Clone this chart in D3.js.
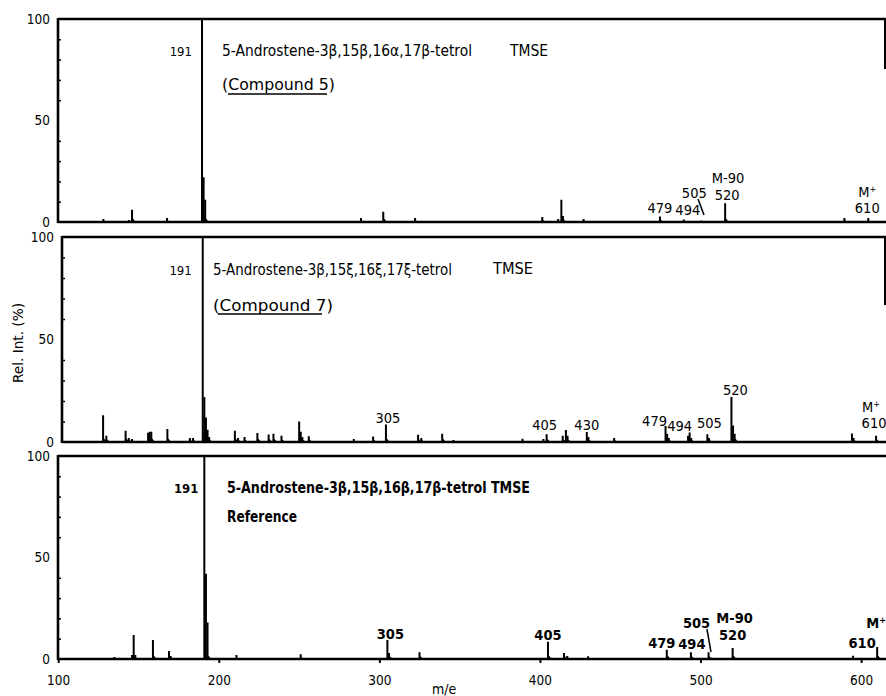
<!DOCTYPE html>
<html>
<head>
<meta charset="utf-8">
<script src="https://cdn.jsdelivr.net/npm/d3@7"></script>
<style>
  body { margin: 0; background: #fff; }
  svg { display: block; }
  text { font-family: "DejaVu Sans Condensed", "Liberation Sans Narrow", sans-serif; fill: #000; }
</style>
</head>
<body>
<svg id="chart" width="886" height="696"></svg>
<script>
// m/e and rel. intensity (%)
const compound5Mz  = [129, 145, 147, 169, 191, 192, 193, 291, 305, 325, 405, 415, 417, 418, 431, 479, 494, 505, 520, 595, 610];
const compound5Int = [1.5, 1, 6, 2, 100, 22, 11, 2, 5, 2, 2.5, 1.5, 11, 3, 1.5, 2.7, 1.2, 0.8, 9.2, 2, 2];

const compound7Mz  = [129, 131, 143, 145, 147, 157, 158, 159, 169, 183, 185, 191, 192, 193, 194, 195, 211, 213, 217, 225, 232, 235, 240, 251, 252, 253, 257, 285, 297, 305, 325, 327, 340, 347, 390, 403, 405, 415, 417, 418, 430, 431, 447, 479, 480, 481, 493, 494, 495, 505, 506, 520, 521, 522, 595, 596, 610];
const compound7Int = [13, 3, 5.5, 2, 1.5, 4.5, 5, 5, 6.3, 2, 2, 100, 22, 12, 6, 2.5, 5.5, 2, 2.4, 4.4, 3.6, 4, 3, 10, 5, 2.5, 2.8, 1.5, 2.7, 8.5, 3.5, 2, 4, 1, 1.6, 1.5, 3.8, 3, 5.9, 3, 4.9, 2.5, 2, 7.8, 4, 2, 3, 4.6, 2, 3.8, 2, 22, 8, 4, 4.2, 2, 3];

const referenceMz  = [135, 146, 147, 148, 159, 169, 170, 191, 192, 193, 211, 251, 305, 306, 325, 405, 415, 417, 430, 479, 494, 505, 520, 595, 610];
const referenceInt = [1, 2, 11.8, 2, 9.4, 4, 1.5, 100, 42, 18, 2, 2.3, 9.4, 3, 3.3, 8.5, 3, 1.5, 1.3, 4.6, 3.3, 3.3, 5.4, 1.6, 5.9];

// peak annotations
const compound5Tags   = ["479", "494", "505", "M-90", "520", "M+", "610"];
const compound5TagMz  = [479, 494, 505, 520, 520, 610, 610];
const compound7Tags   = ["305", "405", "430", "479", "494", "505", "520", "M+", "610"];
const compound7TagMz  = [305, 405, 430, 479, 494, 505, 520, 610, 610];
const referenceTags   = ["305", "405", "479", "494", "505", "M-90", "520", "M+", "610"];
const referenceTagMz  = [305, 405, 479, 494, 505, 520, 520, 610, 610];

const xTicks = [100, 200, 300, 400, 500, 600];
const yLabelTicks = [0, 50, 100];
const yMinorTicks = [10, 20, 30, 40, 60, 70, 80, 90];
const mzDomain = [100, 615];

const svg = d3.select("#chart");
const frameRight = 885;

const panels = [
  {
    mz: compound5Mz, ints: compound5Int, tags: compound5Tags, tagMz: compound5TagMz,
    tagOffsets: [[0, 9], [4, 7], [-7, 24], [3, 39], [2, 22], [-1, 25], [-1, 9]],
    slash: [[-3.3, 23], [2.7, 7]],
    xRange: [57.3, 876.2], yRange: [222, 19], frameLeft: 58, rightBorder: 50,
    base191: [-10, 56],
    titles: [
      { text: "5-Androstene-3β,15β,16α,17β-tetrol", x: 222, y: 56, len: 250 },
      { text: "TMSE", x: 510, y: 56, len: 38 },
      { text: "(Compound 5)", x: 222, y: 90, len: 113, underline: [228, 327, 94] }
    ],
    bold: false
  },
  {
    mz: compound7Mz, ints: compound7Int, tags: compound7Tags, tagMz: compound7TagMz,
    tagOffsets: [[2, 19], [-2, 12], [0, 12], [-11, 16], [-10, 11], [2, 14], [4, 47], [-5, 30], [-2, 14]],
    slash: null,
    xRange: [56.5, 884.1], yRange: [442, 237], frameLeft: 62, rightBorder: 68,
    base191: [-11, 275],
    titles: [
      { text: "5-Androstene-3β,15ξ,16ξ,17ξ-tetrol", x: 213, y: 275, len: 239 },
      { text: "TMSE", x: 493, y: 274, len: 40 },
      { text: "(Compound 7)", x: 213, y: 311, len: 120, underline: [218, 322, 314] }
    ],
    bold: false
  },
  {
    mz: referenceMz, ints: referenceInt, tags: referenceTags, tagMz: referenceTagMz,
    tagOffsets: [[3, 20], [0, 19], [-5, 11], [1, 10], [-12, 31], [2, 36], [0, 19], [-1, 31], [-15, 11]],
    slash: [[-1.6, 30], [2.4, 7]],
    xRange: [58.2, 885.2], yRange: [659, 456], frameLeft: 58, rightBorder: 0,
    base191: [-6, 493],
    titles: [
      { text: "5-Androstene-3β,15β,16β,17β-tetrol TMSE", x: 227, y: 493, len: 303 },
      { text: "Reference", x: 227, y: 522, len: 70 }
    ],
    bold: true
  }
];

panels.forEach((p, idx) => {
  const x = d3.scaleLinear().domain(mzDomain).range(p.xRange);
  const y = d3.scaleLinear().domain([0, 100]).range(p.yRange);
  const g = svg.append("g");
  const weight = p.bold ? "bold" : "normal";

  // frame: top rule, left axis, baseline, stub of right border
  g.append("line").attr("x1", p.frameLeft).attr("x2", 886)
    .attr("y1", y(100)).attr("y2", y(100))
    .attr("stroke", "#000").attr("stroke-width", 2.6);
  g.append("line").attr("x1", p.frameLeft).attr("x2", 886)
    .attr("y1", y(0)).attr("y2", y(0))
    .attr("stroke", "#000").attr("stroke-width", 2.6);
  g.append("line").attr("x1", p.frameLeft).attr("x2", p.frameLeft)
    .attr("y1", y(100) - 1).attr("y2", y(0) + 1)
    .attr("stroke", "#000").attr("stroke-width", 2.6);
  if (p.rightBorder > 0) {
    g.append("line").attr("x1", frameRight).attr("x2", frameRight)
      .attr("y1", y(100)).attr("y2", y(100) + p.rightBorder)
      .attr("stroke", "#000").attr("stroke-width", 2);
  }

  // minor ticks pointing into the plot
  const minor = g.append("g")
    .attr("transform", "translate(" + p.frameLeft + ",0)")
    .call(d3.axisRight(y).tickValues(yMinorTicks).tickSize(3).tickFormat(""));
  minor.select(".domain").remove();
  minor.selectAll("line").attr("stroke-width", 1.5);

  const yAxis = g.append("g")
    .attr("transform", "translate(" + p.frameLeft + ",0)")
    .call(d3.axisLeft(y).tickValues(yLabelTicks).tickSize(0).tickPadding(8));
  yAxis.select(".domain").remove();
  yAxis.selectAll("text")
    .style("font-family", "'DejaVu Sans Condensed', sans-serif")
    .style("font-size", "13.5px").attr("fill", "#000");

  // peaks: vertical stick with a short tail on the high-mass side
  const base = y(0);
  g.append("g").selectAll("path")
    .data(p.mz.map((m, i) => ({ m: m, v: p.ints[i] })))
    .join("path")
    .attr("d", (d) => {
      const px = x(d.m), top = y(d.v);
      const tail = Math.min(3.5, (base - top) * 0.4);
      return "M" + (px - 1) + "," + base + "L" + (px - 1) + "," + top +
        "L" + (px + 1) + "," + top + "L" + (px + 1) + "," + (base - tail) +
        "L" + (px + 3.5) + "," + base + "Z";
    })
    .attr("fill", "#000");

  // base peak label
  g.append("text")
    .attr("x", x(191) + p.base191[0]).attr("y", p.base191[1])
    .attr("text-anchor", "end")
    .style("font-size", "13px").style("font-weight", weight)
    .text("191");

  // peak tags
  p.tags.forEach((t, i) => {
    const tx = x(p.tagMz[i]) + p.tagOffsets[i][0];
    const ty = base - p.tagOffsets[i][1];
    const el = g.append("text")
      .attr("x", tx).attr("y", ty)
      .attr("text-anchor", "middle")
      .style("font-size", "14.5px").style("font-weight", weight);
    if (t === "M+") {
      el.append("tspan").text("M");
      el.append("tspan").attr("baseline-shift", "super").style("font-size", "9px").text("+");
    } else {
      el.text(t);
    }
  });

  if (p.slash) {
    const sx = x(505);
    g.append("line")
      .attr("x1", sx + p.slash[0][0]).attr("y1", base - p.slash[0][1])
      .attr("x2", sx + p.slash[1][0]).attr("y2", base - p.slash[1][1])
      .attr("stroke", "#000").attr("stroke-width", 1.5);
  }

  // compound titles
  p.titles.forEach((t) => {
    g.append("text")
      .attr("x", t.x).attr("y", t.y)
      .attr("textLength", t.len).attr("lengthAdjust", "spacingAndGlyphs")
      .style("font-size", "15px").style("font-weight", weight)
      .text(t.text);
    if (t.underline) {
      g.append("line")
        .attr("x1", t.underline[0]).attr("x2", t.underline[1])
        .attr("y1", t.underline[2]).attr("y2", t.underline[2])
        .attr("stroke", "#000").attr("stroke-width", 1.3);
    }
  });

  // m/e axis only under the last spectrum
  if (idx === panels.length - 1) {
    const xAxis = g.append("g")
      .attr("transform", "translate(0," + base + ")")
      .call(d3.axisBottom(x).tickValues(xTicks).tickSize(4).tickPadding(12));
    xAxis.select(".domain").remove();
    xAxis.selectAll("line").attr("stroke-width", 2);
    xAxis.selectAll("text")
      .style("font-family", "'DejaVu Sans Condensed', sans-serif")
      .style("font-size", "13.5px").attr("fill", "#000");
  }
});

svg.append("text")
  .attr("x", 432).attr("y", 694)
  .style("font-size", "14px")
  .text("m/e");

svg.append("text")
  .attr("transform", "translate(23,343) rotate(-90)")
  .attr("text-anchor", "middle")
  .attr("textLength", 80).attr("lengthAdjust", "spacingAndGlyphs")
  .style("font-size", "14px")
  .text("Rel. Int. (%)");
</script>
</body>
</html>
